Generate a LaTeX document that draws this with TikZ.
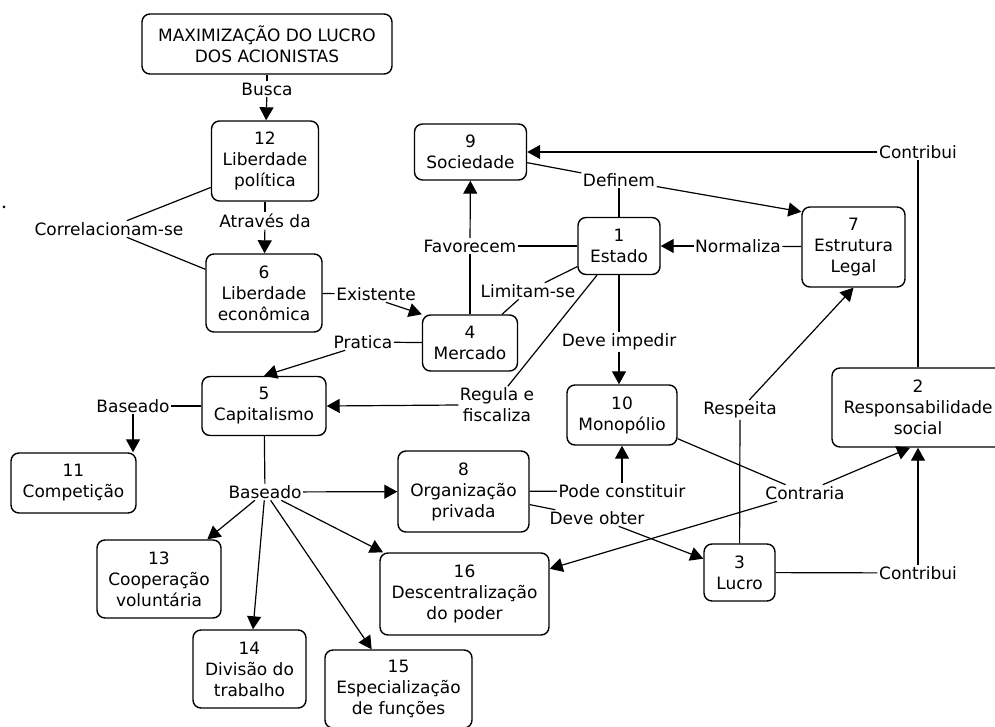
\documentclass[tikz,border=0pt]{standalone}
\usepackage{fontspec}
\setmainfont{DejaVu Sans}
\usetikzlibrary{arrows.meta}
\begin{document}
\begin{tikzpicture}[x=1pt,y=-1pt,
  box/.style={draw, rounded corners=8pt, line width=1.4pt, align=center, inner sep=0pt, font=\fontsize{17}{21}\selectfont},
  lab/.style={align=center, inner sep=1.5pt, font=\fontsize{17}{21}\selectfont},
  con/.style={line width=1.2pt},
  arr/.style={line width=1.2pt, -{Triangle[length=13pt,width=14pt]}},
]
\useasboundingbox (0,0) rectangle (995,727);
\fill (4,207) circle (1.5);
% concept boxes
\node[box, minimum width=250, minimum height=60] (max) at (267,44) {MAXIMIZAÇÃO DO LUCRO\\DOS ACIONISTAS};
\node[box, minimum width=107, minimum height=80] (n12) at (265,161) {12\\Liberdade\\política};
\node[box, minimum width=116, minimum height=78] (n6) at (264,293) {6\\Liberdade\\econômica};
\node[box, minimum width=95, minimum height=56] (n4) at (470,343) {4\\Mercado};
\node[box, minimum width=124, minimum height=59] (n5) at (264,406) {5\\Capitalismo};
\node[box, minimum width=125, minimum height=60] (n11) at (73.5,483) {11\\Competição};
\node[box, minimum width=124, minimum height=78] (n13) at (159,579) {13\\Cooperação\\voluntária};
\node[box, minimum width=113, minimum height=78] (n14) at (249.5,669) {14\\Divisão do\\trabalho};
\node[box, minimum width=147, minimum height=78] (n15) at (398.5,689) {15\\Especialização\\de funções};
\node[box, minimum width=169, minimum height=82] (n16) at (464.5,594) {16\\Descentralização\\do poder};
\node[box, minimum width=131, minimum height=81] (n8) at (463.5,491.5) {8\\Organização\\privada};
\node[box, minimum width=110, minimum height=60] (n10) at (622,415) {10\\Monopólio};
\node[box, minimum width=71, minimum height=57] (n3) at (739.5,572.5) {3\\Lucro};
\node[box, minimum width=172, minimum height=79] (n2) at (918,407.5) {2\\Responsabilidade\\social};
\node[box, minimum width=82, minimum height=57] (n1) at (619,246) {1\\Estado};
\node[box, minimum width=112, minimum height=56] (n9) at (470.5,152) {9\\Sociedade};
\node[box, minimum width=103, minimum height=80] (n7) at (853.5,247) {7\\Estrutura\\Legal};
% linking phrases
\node[lab] (lBusca) at (267,89) {Busca};
\node[lab] (lAtr) at (265,221) {Através da};
\node[lab] (lCorr) at (109,229) {Correlacionam-se};
\node[lab] (lExist) at (376,294) {Existente};
\node[lab] (lPrat) at (363,342) {Pratica};
\node[lab] (lBasL) at (133,406) {Baseado};
\node[lab] (lBasB) at (265,492) {Baseado};
\node[lab] (lPode) at (622,491) {Pode constituir};
\node[lab] (lObter) at (597,518) {Deve obter};
\node[lab] (lContB) at (918,573) {Contribui};
\node[lab] (lContT) at (918,152) {Contribui};
\node[lab] (lDef) at (619,180) {Definem};
\node[lab] (lNorm) at (738,246) {Normaliza};
\node[lab] (lFav) at (470,246) {Favorecem};
\node[lab] (lLim) at (528,291) {Limitam-se};
\node[lab] (lImp) at (619,342) {Deve impedir};
\node[lab] (lReg) at (497,405) {Regula e\\fiscaliza};
\node[lab] (lResp) at (740,410) {Respeita};
\node[lab] (lContr) at (805,493) {Contraria};
% connectors
\draw[con] (max) -- (lBusca); \draw[arr] (lBusca) -- (n12);
\draw[con] (n12) -- (lAtr); \draw[arr] (lAtr) -- (n6);
\draw[con] (n12.206) -- (lCorr.25); \draw[con] (lCorr.-25) -- (n6.158);
\draw[con] (n6) -- (lExist); \draw[arr] (lExist.-40) -- (n4.north west);
\draw[con] (n4) -- (lPrat); \draw[arr] (lPrat.205) -- (n5.north);
\draw[con] (n5) -- (lBasL); \draw[arr] (lBasL) -- (lBasL |- n11.north);
\draw[con] (n5) -- (lBasB);
\draw[arr] (lBasB) -- (n8);
\draw[arr] (lBasB) -- (n13);
\draw[arr] (lBasB) -- (n14);
\draw[arr] (lBasB) -- (n15);
\draw[arr] (lBasB) -- (n16);
\draw[con] (n1) -- (lFav); \draw[con] (n4) -- (lFav); \draw[arr] (lFav) -- (n9);
\draw[con] (n1) -- (lLim); \draw[con] (lLim) -- (n4);
\draw[con] (n1.233) -- (lReg.60); \draw[arr] (lReg.west) -- (n5.east);
\draw[con] (n1) -- (lImp); \draw[arr] (lImp) -- (lImp |- n10.north);
\draw[con] (n9) -- (lDef); \draw[arr] (lDef) -- (n7.146); \draw[con] (lDef) -- (n1);
\draw[con] (n7) -- (lNorm); \draw[arr] (lNorm) -- (n1);
\draw[con] (n2) -- (lContT); \draw[arr] (lContT) -- (n9);
\draw[con] (n3) -- (lContB); \draw[arr] (lContB) -- (n2);
\draw[con] (n8) -- (lPode); \draw[arr] (lPode) -- (n10);
\draw[con] (n8) -- (lObter); \draw[arr] (lObter) -- (n3);
\draw[con] (lResp) -- (n3); \draw[arr] (lResp) -- (n7.south);
\draw[con] (n10) -- (lContr); \draw[arr] (lContr.25) -- ([xshift=-8]n2.south); \draw[arr] (lContr) -- (n16);
\end{tikzpicture}
\end{document}
